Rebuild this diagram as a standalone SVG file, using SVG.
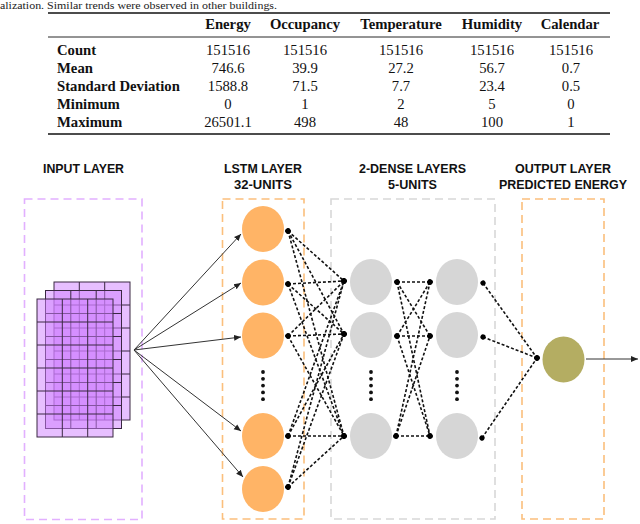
<svg xmlns="http://www.w3.org/2000/svg" width="640" height="524" viewBox="0 0 640 524">
<defs>
<style>
.cap{font-family:"Liberation Serif","Times New Roman",serif;font-size:11px;fill:#222}
.th{font-family:"Liberation Serif","Times New Roman",serif;font-size:14.7px;font-weight:bold;fill:#111}
.td{font-family:"Liberation Serif","Times New Roman",serif;font-size:14.7px;fill:#111;text-anchor:middle}
.ttl{font-family:"Liberation Sans",Arial,Helvetica,sans-serif;font-size:13.5px;font-weight:bold;fill:#111;text-anchor:middle}
.box{fill:none;stroke-width:1.6;stroke-dasharray:8 5}
.lstm{fill:#ffb466}
.dense{fill:#d6d6d6}
.outn{fill:#b4ad62}
.layer{fill:#d080ff;fill-opacity:0.5;stroke:#3a2842;stroke-width:1}
.grid{stroke:#3a2842;stroke-width:1;fill:none}
.in{stroke:#333;stroke-width:1;fill:none;marker-end:url(#arr)}
.dot{stroke:#111;stroke-width:1.6;stroke-dasharray:3 2;fill:none;marker-start:url(#pt);marker-end:url(#pt)}
.vd{fill:#111}
</style>
<marker id="arr" markerUnits="userSpaceOnUse" markerWidth="8" markerHeight="8" viewBox="0 0 8 8" refX="7" refY="4" orient="auto">
<path d="M0,1 L7,4 L0,7 Z" fill="#222"/>
</marker>
<marker id="pt" markerUnits="userSpaceOnUse" markerWidth="6" markerHeight="6" viewBox="0 0 6 6" refX="3" refY="3" orient="auto">
<circle cx="3" cy="3" r="2.6" fill="#000"/>
</marker>
</defs>
<rect width="640" height="524" fill="#fff"/>

<text class="cap" x="0" y="9" textLength="277" lengthAdjust="spacingAndGlyphs">alization. Similar trends were observed in other buildings.</text>

<g id="table">
<line x1="48" y1="13" x2="610" y2="13" stroke="#111" stroke-width="1.5"/>
<line x1="48" y1="37" x2="610" y2="37" stroke="#111" stroke-width="0.9"/>
<line x1="48" y1="134" x2="610" y2="134" stroke="#111" stroke-width="1.5"/>
<g class="th" text-anchor="middle">
<text x="228" y="29">Energy</text>
<text x="305" y="29">Occupancy</text>
<text x="401" y="29">Temperature</text>
<text x="492" y="29">Humidity</text>
<text x="570" y="29">Calendar</text>
</g>
<g class="th">
<text x="57" y="55">Count</text>
<text x="57" y="73">Mean</text>
<text x="57" y="91">Standard Deviation</text>
<text x="57" y="109">Minimum</text>
<text x="57" y="127">Maximum</text>
</g>
<text class="td" x="228" y="55">151516</text><text class="td" x="305" y="55">151516</text><text class="td" x="401" y="55">151516</text><text class="td" x="492" y="55">151516</text><text class="td" x="571" y="55">151516</text>
<text class="td" x="228" y="73">746.6</text><text class="td" x="305" y="73">39.9</text><text class="td" x="401" y="73">27.2</text><text class="td" x="492" y="73">56.7</text><text class="td" x="571" y="73">0.7</text>
<text class="td" x="228" y="91">1588.8</text><text class="td" x="305" y="91">71.5</text><text class="td" x="401" y="91">7.7</text><text class="td" x="492" y="91">23.4</text><text class="td" x="571" y="91">0.5</text>
<text class="td" x="228" y="109">0</text><text class="td" x="305" y="109">1</text><text class="td" x="401" y="109">2</text><text class="td" x="492" y="109">5</text><text class="td" x="571" y="109">0</text>
<text class="td" x="228" y="127">26501.1</text><text class="td" x="305" y="127">498</text><text class="td" x="401" y="127">48</text><text class="td" x="492" y="127">100</text><text class="td" x="571" y="127">1</text>
</g>

<g id="titles">
<text class="ttl" x="83.5" y="173" textLength="81" lengthAdjust="spacingAndGlyphs">INPUT LAYER</text>
<text class="ttl" x="263" y="173" textLength="78" lengthAdjust="spacingAndGlyphs">LSTM LAYER</text>
<text class="ttl" x="263" y="189" textLength="58" lengthAdjust="spacingAndGlyphs">32-UNITS</text>
<text class="ttl" x="412.5" y="173" textLength="107" lengthAdjust="spacingAndGlyphs">2-DENSE LAYERS</text>
<text class="ttl" x="412.5" y="189" textLength="49" lengthAdjust="spacingAndGlyphs">5-UNITS</text>
<text class="ttl" x="563" y="173" textLength="96" lengthAdjust="spacingAndGlyphs">OUTPUT LAYER</text>
<text class="ttl" x="563" y="189" textLength="128" lengthAdjust="spacingAndGlyphs">PREDICTED ENERGY</text>
</g>

<g id="input-layer">
<rect class="box" x="24.5" y="199" width="117.5" height="320.5" stroke="#e2b0ff"/>
<g id="input-stack">
<g transform="translate(54,282)">
<rect class="layer" width="76" height="138"/>
<path class="grid" d="M25.3,0V138M50.7,0V138M0,23H76M0,46H76M0,69H76M0,92H76M0,115H76"/>
</g>
<g transform="translate(45.5,290.5)">
<rect class="layer" width="76" height="138"/>
<path class="grid" d="M25.3,0V138M50.7,0V138M0,23H76M0,46H76M0,69H76M0,92H76M0,115H76"/>
</g>
<g transform="translate(37,299)">
<rect class="layer" width="76" height="138"/>
<path class="grid" d="M25.3,0V138M50.7,0V138M0,23H76M0,46H76M0,69H76M0,92H76M0,115H76"/>
</g>
</g>
</g>

<g id="lstm-layer">
<rect class="box" x="222.5" y="199" width="81.5" height="320" stroke="#fbbf7c"/>
<ellipse id="lstm-1" class="lstm" cx="263" cy="229" rx="21" ry="23"/>
<ellipse id="lstm-2" class="lstm" cx="263" cy="282.5" rx="21" ry="23"/>
<ellipse id="lstm-3" class="lstm" cx="263" cy="335.5" rx="21" ry="23"/>
<ellipse id="lstm-4" class="lstm" cx="263" cy="436" rx="21" ry="23"/>
<ellipse id="lstm-5" class="lstm" cx="263" cy="489" rx="21" ry="23"/>
<g class="vd"><circle cx="263" cy="372" r="1.9"/><circle cx="263" cy="378.8" r="1.9"/><circle cx="263" cy="385.6" r="1.9"/><circle cx="263" cy="392.4" r="1.9"/><circle cx="263" cy="399.2" r="1.9"/></g>
</g>

<g id="dense-layers">
<rect class="box" x="331" y="199" width="164" height="320" stroke="#d8d8d8"/>
<ellipse id="dense1-1" class="dense" cx="371" cy="282" rx="21" ry="23"/>
<ellipse id="dense1-2" class="dense" cx="371" cy="335" rx="21" ry="23"/>
<ellipse id="dense1-3" class="dense" cx="371" cy="436" rx="21" ry="23"/>
<ellipse id="dense2-1" class="dense" cx="457" cy="282" rx="21" ry="23"/>
<ellipse id="dense2-2" class="dense" cx="457" cy="335" rx="21" ry="23"/>
<ellipse id="dense2-3" class="dense" cx="457" cy="436" rx="21" ry="23"/>
<g class="vd"><circle cx="371" cy="372" r="1.9"/><circle cx="371" cy="378.8" r="1.9"/><circle cx="371" cy="385.6" r="1.9"/><circle cx="371" cy="392.4" r="1.9"/><circle cx="371" cy="399.2" r="1.9"/>
<circle cx="457" cy="372" r="1.9"/><circle cx="457" cy="378.8" r="1.9"/><circle cx="457" cy="385.6" r="1.9"/><circle cx="457" cy="392.4" r="1.9"/><circle cx="457" cy="399.2" r="1.9"/></g>
</g>

<g id="output-layer">
<rect class="box" x="522" y="199" width="82" height="320" stroke="#fbbf7c"/>
<ellipse id="output-node" class="outn" cx="563.5" cy="359.5" rx="21" ry="23"/>
</g>

<g id="connectors">
<path class="in" d="M134,350L241,234"/>
<path class="in" d="M134,350L241,283"/>
<path class="in" d="M134,350L241,337"/>
<path class="in" d="M134,350L241,431"/>
<path class="in" d="M134,350L243,477"/>

<path class="dot" d="M288,231L344,281"/><path class="dot" d="M288,231L344,334"/><path class="dot" d="M288,231L344,436"/>
<path class="dot" d="M288,284L344,281"/><path class="dot" d="M288,284L344,334"/><path class="dot" d="M288,284L344,436"/>
<path class="dot" d="M288,336L344,281"/><path class="dot" d="M288,336L344,334"/><path class="dot" d="M288,336L344,436"/>
<path class="dot" d="M288,436L344,281"/><path class="dot" d="M288,436L344,334"/><path class="dot" d="M288,436L344,436"/>
<path class="dot" d="M288,487L344,281"/><path class="dot" d="M288,487L344,334"/><path class="dot" d="M288,487L344,436"/>

<path class="dot" d="M397,282L430,282"/><path class="dot" d="M397,282L430,336"/><path class="dot" d="M397,282L430,436"/>
<path class="dot" d="M397,336L430,282"/><path class="dot" d="M397,336L430,336"/><path class="dot" d="M397,336L430,436"/>
<path class="dot" d="M396,436L430,282"/><path class="dot" d="M396,436L430,336"/><path class="dot" d="M396,436L430,436"/>

<path class="dot" d="M483,283L537,358"/><path class="dot" d="M483,337L537,358"/><path class="dot" d="M482,438L537,358"/>

<path class="in" d="M586,359L638,359"/>
</g>
</svg>
